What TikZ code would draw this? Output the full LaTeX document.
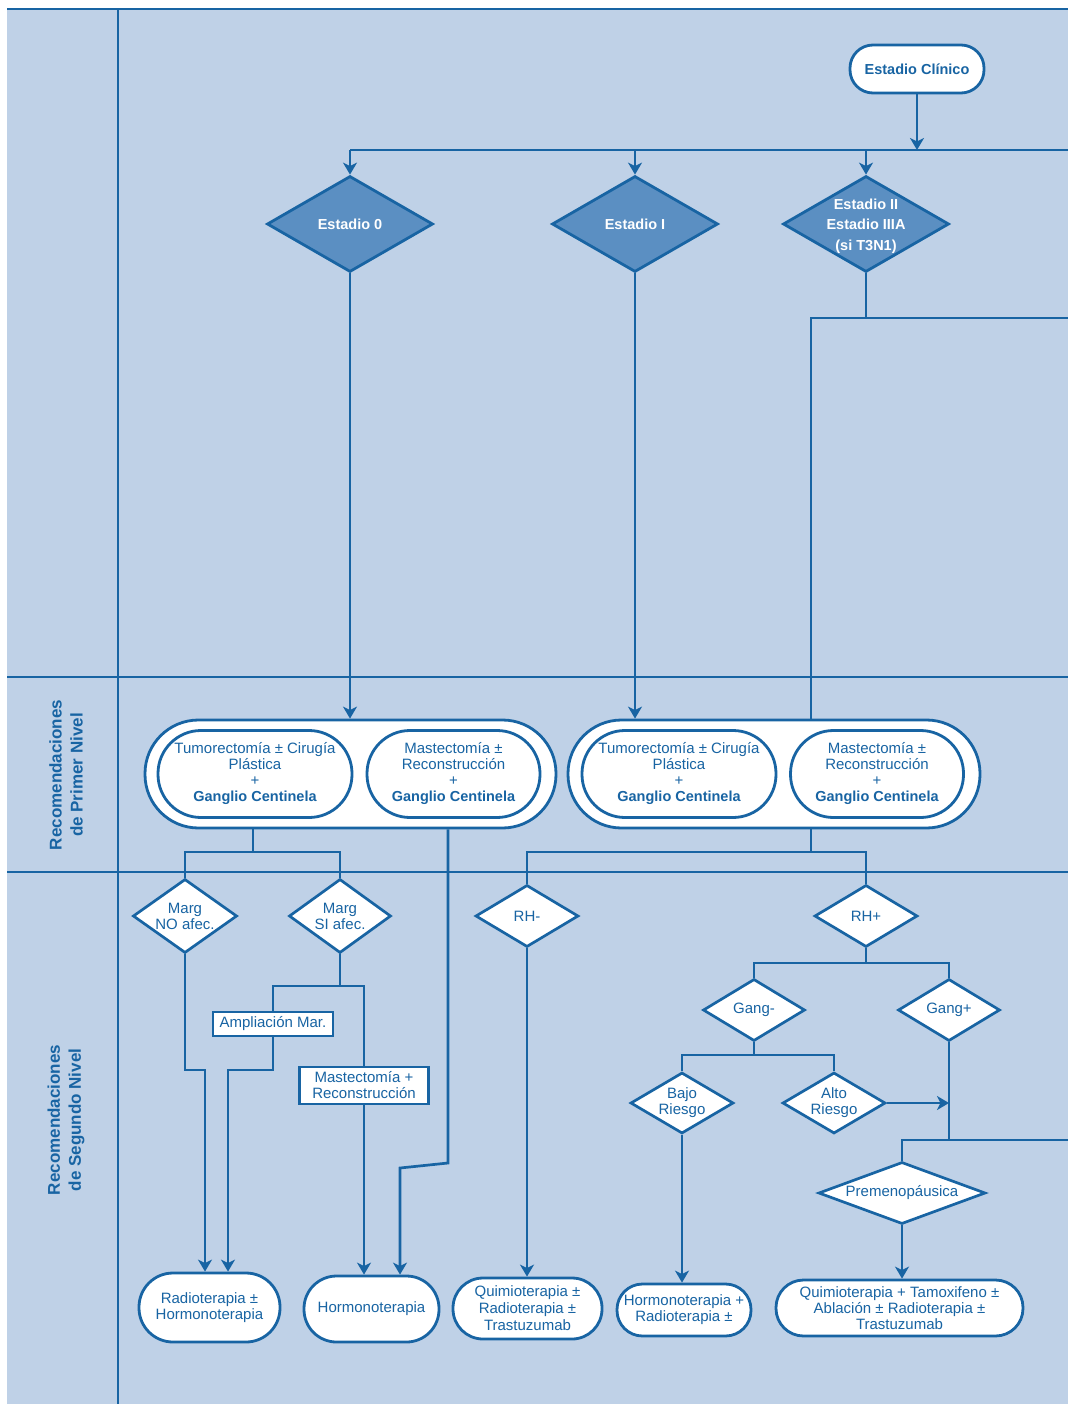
\documentclass[tikz,border=0pt]{standalone}
\usepackage{fontspec}
\setmainfont{Liberation Sans}
\usetikzlibrary{shapes.geometric,arrows.meta,calc}
\definecolor{bgblue}{RGB}{191,209,231}
\definecolor{lineblue}{RGB}{24,100,163}
\definecolor{diafill}{RGB}{91,143,194}
\newcommand{\gcbold}{{\bfseries\fontsize{14.5}{16}\selectfont Ganglio Centinela}}
\begin{document}
\begin{tikzpicture}[x=1pt,y=-1pt,
  line/.style={draw=lineblue, line width=2.7pt},
  arr/.style={line, -{Stealth[length=12pt,width=14pt,inset=3.5pt]}},
  pill/.style={rectangle, rounded corners=#1, draw=lineblue, line width=2.8pt, fill=white,
    text=lineblue, align=center, inner sep=0pt, font=\fontsize{15}{16}\selectfont},
  darkdia/.style={diamond, aspect=1.7, draw=lineblue, line width=2.8pt, fill=diafill, text=white,
    align=center, inner sep=0pt, font=\bfseries\fontsize{14.5}{19}\selectfont,
    minimum width=166pt, minimum height=96pt},
  whitedia/.style={diamond, aspect=1.7, draw=lineblue, line width=2.7pt, fill=white, text=lineblue,
    align=center, inner sep=0pt, font=\fontsize{15}{16}\selectfont},
  sqbox/.style={rectangle, draw=lineblue, line width=2.7pt, fill=white, text=lineblue,
    align=center, inner sep=0pt, font=\fontsize{15}{16}\selectfont},
  sidelabel/.style={rotate=90, text=lineblue, align=center, inner sep=0pt,
    font=\bfseries\fontsize{17}{21}\selectfont}
]
\useasboundingbox (0,0) rectangle (1068,1404);
% background and lanes
\fill[bgblue] (7,9) rectangle (1068,1404);
\draw[draw=lineblue, line width=1.8pt] (7,9) -- (1068,9);
\draw[line] (118,9) -- (118,1404);
\draw[line] (7,677) -- (1068,677);
\draw[line] (7,872) -- (1068,872);

\node[sidelabel] (lab1) at (66,775) {Recomendaciones\\de Primer Nivel};
\node[sidelabel] (lab2) at (66,1120) {Recomendaciones\\de Segundo Nivel};

% top
\node[pill=23pt, minimum width=134pt, minimum height=48pt, font=\bfseries\fontsize{14.5}{16}\selectfont] (clin) at (917,69) {Estadio Clínico};
\node[darkdia] (e0) at (350,224) {Estadio 0};
\node[darkdia] (e1) at (635,224) {Estadio I};
\node[darkdia] (e2) at (866,224) {\makebox[0pt]{\smash{\raisebox{-5.5pt}{\begin{tabular}{@{}c@{}}Estadio II\\[1.5pt]Estadio IIIA\\[1.5pt](si T3N1)\end{tabular}}}}};

% first level
\node[pill=53.5pt, minimum width=411pt, minimum height=108pt] (bigL) at (350.5,774) {};
\node[pill=43pt, minimum width=194pt, minimum height=87pt] (tumL) at (255,774)
  {Tumorectomía ± Cirugía\\Plástica\\+\\\gcbold};
\node[pill=43pt, minimum width=173pt, minimum height=87pt] (masL) at (453.5,774)
  {Mastectomía ±\\Reconstrucción\\+\\\gcbold};
\node[pill=53.5pt, minimum width=412pt, minimum height=108pt] (bigR) at (774,774) {};
\node[pill=43pt, minimum width=194pt, minimum height=87pt] (tumR) at (679,774)
  {Tumorectomía ± Cirugía\\Plástica\\+\\\gcbold};
\node[pill=43pt, minimum width=173pt, minimum height=87pt] (masR) at (877,774)
  {Mastectomía ±\\Reconstrucción\\+\\\gcbold};

% second level decisions
\node[whitedia, minimum width=102pt, minimum height=74pt] (mno) at (185,916) {Marg\\NO afec.};
\node[whitedia, minimum width=102pt, minimum height=74pt] (msi) at (340,916) {Marg\\SI afec.};
\node[whitedia, minimum width=103pt, minimum height=62pt] (rhm) at (527,916) {RH-};
\node[whitedia, minimum width=103pt, minimum height=62pt] (rhp) at (866,916) {RH+};
\node[whitedia, minimum width=102pt, minimum height=62pt] (gm) at (754,1010) {Gang-};
\node[whitedia, minimum width=102pt, minimum height=62pt] (gp) at (949,1010) {Gang+};
\node[whitedia, minimum width=103pt, minimum height=61pt] (bajo) at (682,1103) {Bajo\\Riesgo};
\node[whitedia, minimum width=103pt, minimum height=61pt] (alto) at (834,1103) {Alto\\Riesgo};
\node[whitedia, aspect=2.7, minimum width=167pt, minimum height=62pt] (pre) at (902,1193) {Premenopáusica};

\node[sqbox, minimum width=120pt, minimum height=24pt] (ampl) at (273,1024) {Ampliación Mar.};
\node[sqbox, minimum width=129pt, minimum height=37pt] (mast2) at (364,1085.5) {Mastectomía +\\Reconstrucción};

% bottom results
\node[pill=34pt, minimum width=141pt, minimum height=69pt] (radio) at (209.5,1307.5) {Radioterapia ±\\Hormonoterapia};
\node[pill=32.5pt, minimum width=135pt, minimum height=66pt] (hormo) at (371.5,1309) {Hormonoterapia};
\node[pill=30pt, minimum width=149pt, minimum height=61pt, font=\fontsize{15}{17}\selectfont] (quim1) at (527.5,1308.5) {Quimioterapia ±\\Radioterapia ±\\Trastuzumab};
\node[pill=25.5pt, minimum width=134pt, minimum height=52pt] (hormo2) at (684,1310) {Hormonoterapia +\\Radioterapia ±};
\node[pill=27.5pt, minimum width=247pt, minimum height=56pt] (quim2) at (899.5,1308) {Quimioterapia + Tamoxifeno ±\\Ablación ± Radioterapia ±\\Trastuzumab};

% connectors: top
\coordinate (bar0) at (350,150);
\coordinate (barR) at (1068,150);
\draw[line] (bar0) -- (barR);
\draw[arr] (clin.south) -- (clin.south |- bar0);
\draw[arr] (bar0) -- (e0.north);
\draw[arr] (e1.north |- bar0) -- (e1.north);
\draw[arr] (e2.north |- bar0) -- (e2.north);

\draw[arr] (e0.south) -- (e0.south |- bigL.north);
\draw[arr] (e1.south) -- (e1.south |- bigR.north);
\coordinate (e2L) at (811,318);
\coordinate (e2R) at (1068,318);
\draw[line] (e2.south) -- (e2.south |- e2L);
\draw[line] (e2L |- bigR.north) -- (e2L) -- (e2R);

% first level to second level
\coordinate (jL) at (253,852);
\draw[line] (jL |- bigL.south) -- (jL);
\draw[line] (mno.north) |- (jL) -| (msi.north);
\coordinate (hL1) at (448,1163);
\coordinate (hL2) at (400,1168);
\draw[arr] (hL1 |- bigL.south) -- (hL1) -- (hL2) -- (hL2 |- hormo.north);

\coordinate (jR) at (811,852);
\draw[line] (jR |- bigR.south) -- (jR);
\draw[line] (rhm.north) |- (jR) -| (rhp.north);

% left branch
\coordinate (nB) at (205,1070);
\draw[arr] (mno.south) |- (nB) -- (nB |- radio.north);
\coordinate (sJ) at (340,986);
\draw[line] (msi.south) -- (sJ);
\draw[line] (ampl.north) |- (sJ) -| (mast2.north);
\coordinate (aB) at (228,1070);
\draw[arr] (ampl.south) |- (aB) -- (aB |- radio.north);
\draw[arr] (mast2.south) -- (mast2.south |- hormo.north);

% RH-
\draw[arr] (rhm.south) -- (rhm.south |- quim1.north);

% RH+
\coordinate (pJ) at (866,963);
\draw[line] (rhp.south) -- (pJ);
\draw[line] (gm.north) |- (pJ) -| (gp.north);
\coordinate (gJ) at (754,1055);
\draw[line] (gm.south) -- (gJ);
\draw[line] (bajo.north) |- (gJ) -| (alto.north);
\draw[arr] (bajo.south) -- (bajo.south |- hormo2.north);
\draw[arr] (alto.east) -- (alto.east -| gp.south);
\coordinate (gpR) at (1068,1140);
\draw[line] (gp.south) -- (gp.south |- gpR);
\draw[line] (pre.north) |- (gpR);
\draw[arr] (pre.south) -- (pre.south |- quim2.north);
\end{tikzpicture}
\end{document}
